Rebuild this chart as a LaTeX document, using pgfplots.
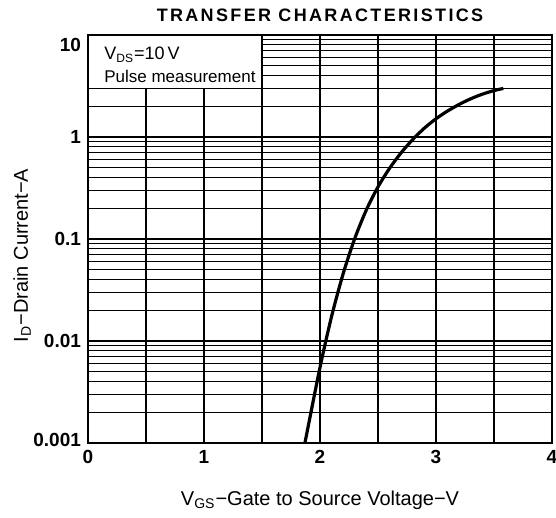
\documentclass[border=0pt]{standalone}
\usepackage{fontspec}
\setmainfont{Liberation Sans}
\usepackage{pgfplots}
\pgfplotsset{compat=1.18}
\begin{document}
\begin{tikzpicture}
\begin{axis}[
  scale only axis, width=232pt, height=204pt,
  xmin=0, xmax=4, ymin=0.001, ymax=10, ymode=log,
  xtick={0,1,2,3,4}, xticklabels={0,1,2,3,4},
  minor xtick={0.5,1.5,2.5,3.5},
  ytick={0.001,0.01,0.1,1,10},
  yticklabels={\raisebox{-1.9pt}[0pt][0pt]{0.001},0.01,0.1,1,\raisebox{-8.4pt}[0pt][0pt]{10}},
  minor ytick={0.002,0.003,0.004,0.005,0.006,0.007,0.008,0.009,
               0.02,0.03,0.04,0.05,0.06,0.07,0.08,0.09,
               0.2,0.3,0.4,0.5,0.6,0.7,0.8,0.9,
               2,3,4,5,6,7,8,9},
  grid=both,
  major grid style={black, line width=0.6pt},
  minor grid style={black, line width=0.55pt},
  major tick length=0pt, minor tick length=0pt,
  axis line style={black, line width=0.9pt},
  tick label style={font=\fontsize{9.5}{11}\selectfont\bfseries},
  /pgf/number format/assume math mode=true,
  every axis title shift=0pt,
  title={TRANSFER CHARACTERISTICS},
  title style={at={(0.5,1)}, anchor=base, yshift=6.5pt,
    font=\fontsize{9}{10}\selectfont\bfseries\addfontfeatures{LetterSpace=13}},
  xlabel={V\textsubscript{GS}−Gate to Source Voltage−V},
  xlabel style={at={(0.5,0)}, anchor=base, yshift=-31pt, font=\fontsize{10}{12}\selectfont},
  ylabel={I\textsubscript{D}−Drain Current−A},
  ylabel style={at={(axis description cs:-0.142,0.46)}, anchor=center, font=\fontsize{10}{12}\selectfont},
]
\coordinate (SW) at (rel axis cs:0,0);
\coordinate (NE) at (rel axis cs:1,1);
\filldraw[fill=white, draw=black, line width=0.6pt] (axis cs:0,3) rectangle (axis cs:1.5,10);
\node[anchor=west, font=\fontsize{9}{10}\selectfont] at (axis cs:0.08,6.4) {V\textsubscript{DS}=10\,V};
\node[anchor=west, font=\fontsize{8.5}{10}\selectfont] at (axis cs:0.08,3.95) {Pulse measurement};
\addplot[black, line width=1.6pt, smooth] coordinates {
  (1.87,0.001) (2.0,0.00551) (2.1,0.01742) (2.2,0.0458) (2.3,0.1014)
  (2.4,0.1932) (2.5,0.3243) (2.6,0.4937) (2.7,0.7015) (2.8,0.946)
  (2.9,1.222) (3.0,1.510) (3.1,1.799) (3.2,2.089) (3.3,2.371)
  (3.4,2.630) (3.5,2.851) (3.58,2.992)
};
\end{axis}
\pgfresetboundingbox
\path[use as bounding box] ([shift={(-44pt,-37pt)}]SW) rectangle ([shift={(2pt,17.5pt)}]NE);
\end{tikzpicture}
\end{document}
